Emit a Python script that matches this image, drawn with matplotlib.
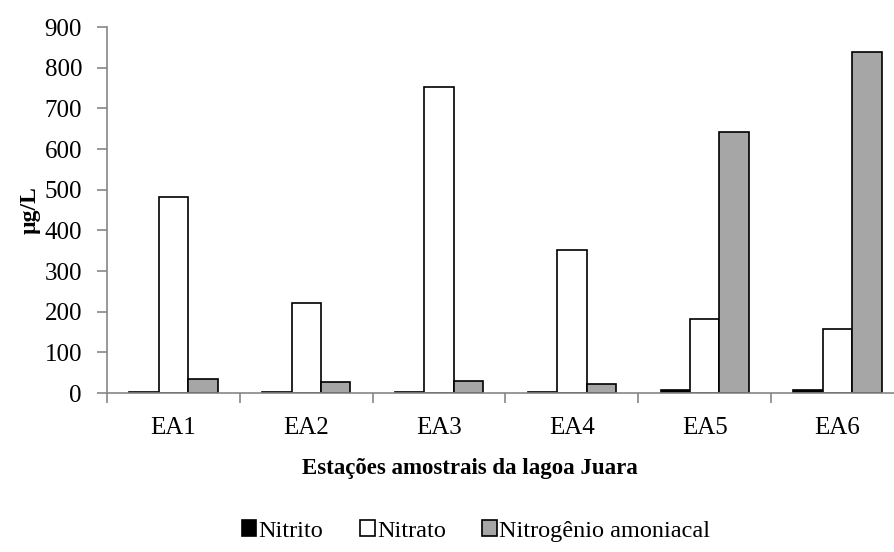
import matplotlib.pyplot as plt
import numpy as np

# dados do grafico
estacoes = ['EA1', 'EA2', 'EA3', 'EA4', 'EA5', 'EA6']
nitrito = [2, 3, 2, 2, 7, 8]
nitrato = [481, 222, 753, 352, 181, 158]
amoniacal = [34, 28, 30, 22, 643, 838]

plt.rcParams['font.family'] = ['Liberation Serif', 'DejaVu Serif']

fig = plt.figure(figsize=(8.94, 5.52), dpi=100)
ax = fig.add_axes([107 / 894, 1 - 393 / 552, 797 / 894, 366 / 552])

x = np.arange(len(estacoes))
w = 0.222
eixo = '#868686'
ax.bar(x - w, nitrito, width=w, color='black', edgecolor='black', linewidth=1.2, label='Nitrito')
ax.bar(x, nitrato, width=w, color='white', edgecolor='black', linewidth=1.2, label='Nitrato')
ax.bar(x + w, amoniacal, width=w, color='#a6a6a6', edgecolor='black', linewidth=1.2,
       label='Nitrogênio amoniacal')

ax.set_xlim(-0.5, 5.5)
ax.set_ylim(0, 900)
ax.set_yticks(range(0, 901, 100))
ax.set_xticks(x)
ax.set_xticklabels(estacoes)
ax.set_xticks(np.arange(-0.5, 6, 1), minor=True)
ax.tick_params(axis='x', which='major', length=0, labelsize=18, pad=17)
ax.tick_params(axis='x', which='minor', length=7, color=eixo, width=1.2, direction='out')
ax.tick_params(axis='y', length=7, color=eixo, width=1.2, labelsize=18, pad=11)

for s in ['top', 'right']:
    ax.spines[s].set_visible(False)
for s in ['left', 'bottom']:
    ax.spines[s].set_color(eixo)
    ax.spines[s].set_linewidth(1.2)

ax.set_ylabel('µg/L', fontsize=17, fontweight='bold')
ax.yaxis.set_label_coords(-(107 - 30) / 797, (393 - 210) / 366)
ax.yaxis.label.set_va('center')
ax.set_xlabel('Estações amostrais da lagoa Juara', fontsize=16.5, fontweight='bold')
ax.xaxis.set_label_coords((470 - 107) / 797, -(474 - 393) / 366)
ax.xaxis.label.set_va('baseline')

fig.legend(loc='center', bbox_to_anchor=(476 / 894, 1 - 531 / 552), ncol=3, frameon=False,
           fontsize=17.5, handlelength=0.6, handleheight=0.6, handletextpad=0.1, columnspacing=1.5)

plt.savefig('out.png', dpi=100)
